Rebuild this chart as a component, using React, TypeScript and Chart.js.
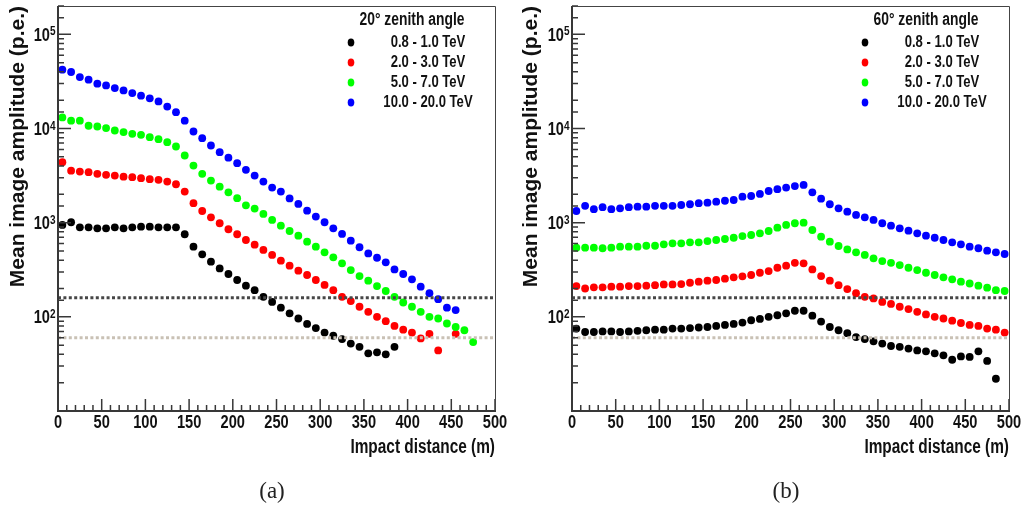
import React, { useEffect, useRef } from 'react';
import { Chart, registerables } from 'chart.js';

Chart.register(...registerables);

// ---------- data ----------
const DISTANCES = [
  5, 15, 25, 35, 45, 55, 65, 75, 85, 95,
  105, 115, 125, 135, 145, 155, 165, 175, 185, 195,
  205, 215, 225, 235, 245, 255, 265, 275, 285, 295,
  305, 315, 325, 335, 345, 355, 365, 375, 385, 395,
  405, 415, 425, 435, 445, 455, 465, 475, 485, 495,
];

const SERIES_LABELS = ['0.8 - 1.0 TeV', '2.0 - 3.0 TeV', '5.0 - 7.0 TeV', '10.0 - 20.0 TeV'];
const SERIES_COLORS = ['#000000', '#ff0000', '#00ff00', '#0000ff'];

const THRESHOLD_HIGH = 159;
const THRESHOLD_LOW = 60;

// 20 degree zenith angle
const Z20_E1 = [946, 1010, 893, 893, 871, 871, 893, 871, 893, 906, 906, 893, 893, 893, 753, 556, 461, 385, 327, 285, 246, 214, 192, 163, 144, 125, 109, 96, 84, 76, 68, 63, 58, 52, 48, 41, 42, 40, 48];
const Z20_E2 = [4390, 3570, 3490, 3440, 3300, 3220, 3160, 3080, 3040, 2970, 2900, 2850, 2730, 2560, 2140, 1610, 1330, 1140, 986, 851, 753, 655, 584, 513, 454, 395, 349, 309, 278, 246, 218, 192, 163, 147, 128, 113, 100, 90, 80, 73, 68, 59, 66, 44, null, 66];
const Z20_E3 = [13100, 12100, 12100, 10700, 10500, 10100, 9520, 9160, 8790, 8570, 8100, 7710, 7160, 6440, 5170, 4040, 3300, 2800, 2410, 2100, 1820, 1530, 1410, 1240, 1070, 929, 816, 728, 629, 556, 484, 429, 370, 314, 271, 242, 212, 188, 163, 142, 128, 113, 100, 96, 85, 78, 72, 54];
const Z20_E4 = [42200, 39800, 35200, 33000, 29900, 28700, 26900, 25400, 23800, 22300, 20900, 19400, 17100, 14900, 12100, 9300, 7900, 6600, 5600, 4900, 4280, 3640, 3160, 2730, 2360, 2140, 1810, 1580, 1340, 1160, 1010, 871, 759, 644, 548, 472, 424, 379, 319, 285, 250, 209, 178, 154, 125, 118];

// 60 degree zenith angle
const Z60_E1 = [75, 69, 69, 70, 70, 69, 70, 71, 72, 73, 73, 75, 75, 76, 77, 78, 80, 82, 84, 87, 92, 95, 100, 104, 109, 116, 116, 103, 89, 78, 72, 67, 61, 58, 55, 52, 49, 48, 46, 44, 43, 41, 39, 35, 38, 37.5, 43, 34, 22];
const Z60_E2 = [212, 200, 206, 206, 209, 209, 212, 212, 214, 217, 221, 221, 223, 230, 236, 242, 246, 254, 263, 269, 278, 294, 306, 332, 349, 375, 370, 319, 271, 242, 217, 197, 178, 163, 157, 144, 137, 128, 121, 113, 106, 100, 96, 91, 86, 82, 80, 75, 73, 68];
const Z60_E3 = [542, 542, 542, 535, 542, 556, 556, 556, 569, 569, 589, 604, 604, 619, 619, 638, 655, 671, 692, 721, 740, 771, 816, 885, 946, 986, 1000, 836, 710, 629, 565, 520, 484, 454, 418, 391, 375, 355, 332, 314, 294, 278, 263, 250, 236, 226, 214, 204, 192, 188];
const Z60_E4 = [1330, 1510, 1390, 1460, 1390, 1420, 1460, 1480, 1480, 1510, 1510, 1510, 1540, 1570, 1610, 1630, 1670, 1710, 1740, 1890, 1920, 2020, 2170, 2270, 2360, 2450, 2520, 2100, 1800, 1570, 1420, 1310, 1210, 1140, 1070, 986, 929, 871, 822, 771, 728, 692, 655, 619, 589, 556, 535, 504, 484, 465];

const X_MIN = 0;
const X_MAX = 500;
const X_STEP = 50;
const Y_MIN = 10;
const Y_MAX = 200000;

const X_TITLE = 'Impact distance (m)';
const Y_TITLE = 'Mean image amplitude (p.e.)';

// ---------- style ----------
const FONT = "'Liberation Sans', Arial, sans-serif";
const TEXT = '#111111';
const AXIS = '#383838';
const SQUEEZE = 0.77;

function toPoints(values: (number | null)[]) {
  const pts: { x: number; y: number }[] = [];
  values.forEach((v, i) => {
    if (v !== null && v !== undefined) pts.push({ x: DISTANCES[i], y: v });
  });
  return pts;
}

function sqText(
  ctx: CanvasRenderingContext2D,
  text: string,
  x: number,
  y: number,
  align: CanvasTextAlign,
  baseline: CanvasTextBaseline,
  font: string,
  color: string = TEXT,
) {
  ctx.save();
  ctx.font = font;
  ctx.fillStyle = color;
  ctx.textAlign = align;
  ctx.textBaseline = baseline;
  ctx.translate(x, y);
  ctx.scale(SQUEEZE, 1);
  ctx.fillText(text, 0, 0);
  ctx.restore();
}

const rootStylePlugin = {
  id: 'rootStyle',
  afterDraw(chart: any, _args: any, opts: any) {
    const { ctx, chartArea: a } = chart;
    const xs = chart.scales.x;
    const ys = chart.scales.y;
    ctx.save();

    // x ticks (inside)
    ctx.strokeStyle = AXIS;
    ctx.lineWidth = 1.5;
    ctx.beginPath();
    const majors = xs.ticks.map((t: any) => t.value);
    for (let k = 0; k < majors.length; k++) {
      const v = majors[k];
      const px = xs.getPixelForValue(v);
      ctx.moveTo(px, a.bottom);
      ctx.lineTo(px, a.bottom - 12);
      if (k < majors.length - 1) {
        const step = (majors[k + 1] - v) / 5;
        for (let s = 1; s < 5; s++) {
          const mx = xs.getPixelForValue(v + s * step);
          ctx.moveTo(mx, a.bottom);
          ctx.lineTo(mx, a.bottom - 6);
        }
      }
    }
    // y ticks (inside)
    ys.ticks.forEach((t: any) => {
      const lg = Math.log10(t.value);
      const dec = Math.abs(lg - Math.round(lg)) < 1e-9;
      const py = ys.getPixelForValue(t.value);
      ctx.moveTo(a.left, py);
      ctx.lineTo(a.left + (dec ? 13 : 6), py);
    });
    ctx.stroke();

    // frame
    ctx.lineWidth = 1;
    ctx.strokeStyle = '#444';
    ctx.beginPath();
    ctx.moveTo(a.left, a.top + 0.5);
    ctx.lineTo(a.right + 0.5, a.top + 0.5);
    ctx.lineTo(a.right + 0.5, a.bottom);
    ctx.stroke();
    ctx.lineWidth = 2;
    ctx.strokeStyle = AXIS;
    ctx.beginPath();
    ctx.moveTo(a.left, a.top);
    ctx.lineTo(a.left, a.bottom);
    ctx.lineTo(a.right + 1, a.bottom);
    ctx.stroke();

    // x tick labels
    xs.ticks.forEach((t: any) => {
      const px = xs.getPixelForValue(t.value);
      sqText(ctx, String(t.value), px, a.bottom + 11.5, 'center', 'middle', `bold 19px ${FONT}`);
    });
    // x title
    sqText(ctx, opts.xTitle, a.right, a.bottom + 36, 'right', 'middle', `bold 20px ${FONT}`);

    // y tick labels 10^n
    ys.ticks.forEach((t: any) => {
      const lg = Math.log10(t.value);
      const n = Math.round(lg);
      if (Math.abs(lg - n) > 1e-9 || t.value <= ys.min) return;
      const py = ys.getPixelForValue(t.value);
      sqText(ctx, '10', a.left - 8, py + 1, 'right', 'middle', `bold 19px ${FONT}`);
      sqText(ctx, String(n), a.left - 8, py - 9, 'left', 'top', `bold 13px ${FONT}`);
    });

    // legend
    const L = a.left;
    sqText(ctx, opts.title, L + 354, a.top + 14, 'center', 'middle', `bold 18px ${FONT}`);
    const series = chart.data.datasets.filter((d: any) => d.legendRow !== undefined);
    series.sort((p: any, q: any) => p.legendRow - q.legendRow);
    series.forEach((d: any, i: number) => {
      const ry = a.top + 36.5 + 20 * i;
      ctx.fillStyle = d.backgroundColor;
      ctx.beginPath();
      ctx.ellipse(L + 293, ry, 3.3, 3.9, 0, 0, Math.PI * 2);
      ctx.fill();
      sqText(ctx, d.label, L + 370, ry, 'center', 'middle', `bold 17px ${FONT}`);
    });

    ctx.restore();
  },
};

type PanelProps = {
  left: number;
  legendTitle: string;
  values: (number | null)[][];
  yAxisWidth: number;
  padRight: number;
};

function Panel({ left, legendTitle, values, yAxisWidth, padRight }: PanelProps) {
  const ref = useRef<HTMLCanvasElement | null>(null);
  useEffect(() => {
    const canvas = ref.current;
    if (!canvas) return;
    const lineDs = (y: number, color: string) => ({
      type: 'line' as const,
      data: [
        { x: X_MIN, y },
        { x: X_MAX, y },
      ],
      borderColor: color,
      borderWidth: 3,
      borderDash: [3, 2.4],
      pointRadius: 0,
      fill: false,
      order: -1,
    });
    const seriesDs = values.map((vals, i) => ({
      label: SERIES_LABELS[i],
      legendRow: i,
      data: toPoints(vals),
      backgroundColor: SERIES_COLORS[i],
      borderColor: SERIES_COLORS[i],
      pointRadius: 3.9,
      pointBorderWidth: 0,
      pointStyle: 'circle',
      showLine: false,
      order: 4 - i,
    }));
    const chart = new Chart(canvas, {
      type: 'scatter',
      data: {
        datasets: [lineDs(THRESHOLD_HIGH, '#474747'), lineDs(THRESHOLD_LOW, '#c9c1b5'), ...seriesDs] as any,
      },
      options: {
        responsive: false,
        animation: false,
        devicePixelRatio: 1,
        layout: { padding: { left: 0, right: padRight, top: 6, bottom: 52 } },
        plugins: {
          legend: { display: false },
          tooltip: { enabled: false },
          rootStyle: { title: legendTitle, xTitle: X_TITLE },
        } as any,
        scales: {
          x: {
            type: 'linear',
            min: X_MIN,
            max: X_MAX,
            grid: { display: false, drawTicks: false },
            border: { display: false },
            ticks: { display: false, stepSize: X_STEP, autoSkip: false },
            afterFit: (s: any) => {
              s.height = 47;
            },
          },
          y: {
            type: 'logarithmic',
            min: Y_MIN,
            max: Y_MAX,
            grid: { display: false, drawTicks: false },
            border: { display: false },
            ticks: { display: false, autoSkip: false },
            title: {
              display: true,
              text: Y_TITLE,
              align: 'end',
              color: TEXT,
              padding: { top: 6, bottom: 0 },
              font: { family: FONT, size: 21, weight: 'bold' },
            },
            afterFit: (s: any) => {
              s.width = yAxisWidth;
            },
          },
        } as any,
      },
      plugins: [rootStylePlugin as any],
    });
    return () => chart.destroy();
  }, [legendTitle, values, yAxisWidth, padRight]);

  return (
    <canvas
      ref={ref}
      width={513}
      height={510}
      style={{ position: 'absolute', left, top: 0, width: 513, height: 510 }}
    />
  );
}

const captionStyle = (cx: number): React.CSSProperties => ({
  position: 'absolute',
  left: cx - 40,
  width: 80,
  top: 477,
  textAlign: 'center',
  fontFamily: "'Liberation Serif', 'DejaVu Serif', serif",
  fontSize: 23,
  color: '#222',
  lineHeight: '28px',
});

const PANEL_A = [Z20_E1, Z20_E2, Z20_E3, Z20_E4];
const PANEL_B = [Z60_E1, Z60_E2, Z60_E3, Z60_E4];

export default function App() {
  return (
    <div style={{ position: 'absolute', left: 0, top: 0, width: 1026, height: 510, background: '#fff', overflow: 'hidden' }}>
      <Panel left={0} legendTitle="20° zenith angle" values={PANEL_A} yAxisWidth={58} padRight={18} />
      <Panel left={513} legendTitle="60° zenith angle" values={PANEL_B} yAxisWidth={59} padRight={17} />
      <div style={captionStyle(272)}>(a)</div>
      <div style={captionStyle(786)}>(b)</div>
    </div>
  );
}
